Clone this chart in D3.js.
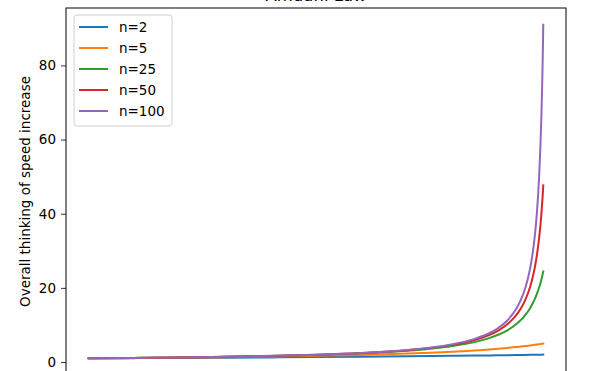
<!DOCTYPE html>
<html lang="en">
<head>
  <meta charset="UTF-8">
  <title>Amdahl Law</title>
  <script src="https://d3js.org/d3.v7.min.js"></script>
  <style>
    body { margin: 0; background: #fff; }
    text { font-family: "DejaVu Sans", sans-serif; fill: #000; }
    .tick text { font-size: 13.5px; }
    .tick line { stroke: #000; stroke-width: 0.8px; }
    .domain { display: none; }
    .series { fill: none; stroke-width: 2px; stroke-linejoin: round; stroke-linecap: square; }
  </style>
</head>
<body>
  <div id="chart"></div>
  <script>
    // Parallel fraction p (x values)
    const pValues = [0, 0.1, 0.2, 0.3, 0.4, 0.5, 0.6, 0.7, 0.75, 0.8, 0.85, 0.88, 0.9, 0.92, 0.94,
      0.95, 0.96, 0.97, 0.975, 0.98, 0.985, 0.99, 0.993, 0.995, 0.997, 0.998, 0.999];

    // Speed increase for each processor count
    const s2 = [1, 1.05, 1.11, 1.18, 1.25, 1.33, 1.43, 1.54, 1.6, 1.67, 1.74, 1.79, 1.82, 1.85, 1.89,
      1.9, 1.92, 1.94, 1.95, 1.96, 1.97, 1.98, 1.99, 1.99, 1.99, 2.0, 2.0];
    const s5 = [1, 1.09, 1.19, 1.32, 1.47, 1.67, 1.92, 2.27, 2.5, 2.78, 3.13, 3.38, 3.57, 3.79, 4.03,
      4.17, 4.31, 4.46, 4.55, 4.63, 4.72, 4.81, 4.86, 4.9, 4.94, 4.96, 4.98];
    const s25 = [1, 1.11, 1.24, 1.4, 1.62, 1.92, 2.36, 3.05, 3.57, 4.31, 5.43, 6.44, 7.35, 8.56, 10.25,
      11.36, 12.76, 14.53, 15.63, 16.89, 18.38, 20.16, 21.4, 22.32, 23.32, 23.86, 24.41];
    const s50 = [1, 1.11, 1.24, 1.42, 1.64, 1.96, 2.43, 3.18, 3.77, 4.63, 5.99, 7.27, 8.47, 10.16, 12.69,
      14.49, 16.89, 20.24, 22.47, 25.25, 28.82, 33.56, 37.23, 40.16, 43.59, 45.54, 47.66];
    const s100 = [1, 1.11, 1.25, 1.42, 1.66, 1.98, 2.46, 3.26, 3.88, 4.81, 6.31, 7.76, 9.17, 11.21, 14.41,
      16.81, 20.16, 25.19, 28.78, 33.56, 40.24, 50.25, 59.07, 66.89, 77.1, 83.47, 90.99];

    const seriesNames = ["n=2", "n=5", "n=25", "n=50", "n=100"];
    const seriesValues = [s2, s5, s25, s50, s100];
    const colors = ["#1f77b4", "#ff7f0e", "#2ca02c", "#d62728", "#9467bd"];

    const yTicks = [0, 20, 40, 60, 80];
    const xTicks = [0, 0.2, 0.4, 0.6, 0.8, 1.0];

    const W = 600, H = 371;
    const margin = { top: 8, right: 34, bottom: 0, left: 66 };
    const plotW = 500, plotH = 367; // plot bottom falls just below the visible area

    const svg = d3.select("#chart").append("svg")
      .attr("width", W).attr("height", H);

    // Scales with matplotlib-like 5% padding
    const xExt = [d3.min(pValues), d3.max(pValues)];
    const xPad = (xExt[1] - xExt[0]) * 0.05;
    const x = d3.scaleLinear().domain([xExt[0] - xPad, xExt[1] + xPad])
      .range([margin.left, margin.left + plotW]);

    const yMin = d3.min(seriesValues, s => d3.min(s));
    const yMax = d3.max(seriesValues, s => d3.max(s));
    const yPad = (yMax - yMin) * 0.05;
    const y = d3.scaleLinear().domain([yMin - yPad, yMax + yPad])
      .range([margin.top + plotH, margin.top]);

    // Title: only the bottom sliver shows at the top edge, as in the source
    svg.append("text")
      .attr("x", margin.left + plotW / 2).attr("y", 1)
      .attr("text-anchor", "middle")
      .style("font-size", "16.5px")
      .text("Amdahl Law");

    // Lines
    const line = d3.line()
      .x((d, i) => x(pValues[i]))
      .y(d => y(d))
      .curve(d3.curveMonotoneX);

    svg.selectAll(".series")
      .data(seriesValues)
      .enter().append("path")
      .attr("class", "series")
      .attr("stroke", (d, i) => colors[i])
      .attr("d", line);

    // Axes (x tick labels fall below the visible area, so only marks are drawn)
    svg.append("g")
      .attr("transform", `translate(${margin.left},0)`)
      .call(d3.axisLeft(y).tickValues(yTicks).tickSize(5).tickPadding(5).tickFormat(d3.format("d")));

    svg.append("g")
      .attr("transform", `translate(0,${margin.top + plotH})`)
      .call(d3.axisBottom(x).tickValues(xTicks).tickSize(5).tickFormat(""));

    // Frame
    svg.append("rect")
      .attr("x", margin.left).attr("y", margin.top)
      .attr("width", plotW).attr("height", plotH)
      .attr("fill", "none").attr("stroke", "#000").attr("stroke-width", 1);

    // Y axis label
    svg.append("text")
      .attr("transform", `translate(25,${margin.top + plotH / 2}) rotate(-90)`)
      .attr("text-anchor", "middle")
      .attr("dy", "0.35em")
      .style("font-size", "13.5px")
      .text("Overall thinking of speed increase");

    // Legend
    const legend = svg.append("g").attr("transform", "translate(74,15)");
    legend.append("rect")
      .attr("width", 98).attr("height", 111)
      .attr("rx", 3)
      .attr("fill", "#fff").attr("fill-opacity", 0.8)
      .attr("stroke", "#d0d0d0");

    const rows = legend.selectAll(".row")
      .data(seriesNames)
      .enter().append("g")
      .attr("transform", (d, i) => `translate(0,${12 + i * 21})`);

    rows.append("line")
      .attr("x1", 5).attr("x2", 34)
      .attr("stroke", (d, i) => colors[i])
      .attr("stroke-width", 2);

    rows.append("text")
      .attr("x", 45).attr("dy", "0.35em")
      .style("font-size", "13.5px")
      .text(d => d);
  </script>
</body>
</html>
